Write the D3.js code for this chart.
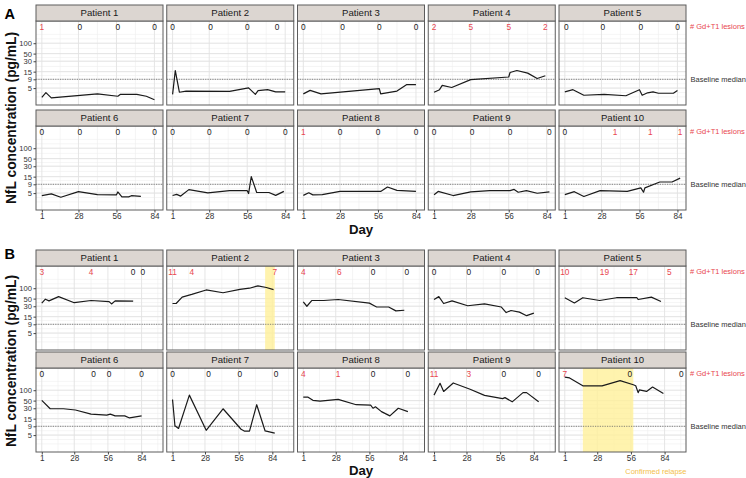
<!DOCTYPE html>
<html><head><meta charset="utf-8">
<script src="https://cdn.jsdelivr.net/npm/d3@7"></script>
<style>body{margin:0;background:#fff} text{font-family:"Liberation Sans",Arial,Helvetica,sans-serif}</style>
</head><body><svg id="c" width="746" height="478"></svg>
<script>
// ---------- data ----------
const patients = ["Patient 1","Patient 2","Patient 3","Patient 4","Patient 5","Patient 6","Patient 7","Patient 8","Patient 9","Patient 10"];
const yBreaks = [5, 9, 15, 30, 50, 100];
const xBreaks = [1, 28, 56, 84];
const baselineMedian = 9;
const lesionLabelLevel = 300;

// Panel A
const aDays = [
  [1,4,8,42,57,59,71,78,84],
  [1,3,6,11,43,57,62,64,71,77,84],
  [1,6,14,57,58,70,77,84],
  [1,5,7,14,28,56,57,62,70,77,83],
  [1,7,15,30,46,56,58,62,66,70,81,84],
  [1,8,15,28,42,56,57,60,65,67,74],
  [1,4,7,13,27,43,56,57,59,63,72,77,83],
  [1,5,8,15,28,58,63,70,84],
  [1,4,15,28,42,57,60,63,69,77,86],
  [1,8,15,27,47,57,59,60,71,80,86]
];
const aNfl = [
  [2.7,3.7,2.6,3.4,2.9,3.3,3.3,2.9,2.3],
  [3.3,16,3.8,4.1,4.0,5.1,3.3,4.2,4.5,3.9,3.9],
  [3.4,4.3,3.4,4.8,3.4,4.1,6.3,6.3],
  [3.8,4.5,6.0,5.2,8.8,10.5,14.2,16.2,13.6,9.5,11.4],
  [3.9,4.5,3.1,3.3,3.0,4.5,3.1,3.65,3.9,3.55,3.55,4.25],
  [4.25,4.75,3.8,5.5,4.5,4.45,5.4,3.9,3.9,4.2,4.0],
  [4.25,4.6,4.1,6.3,5.1,5.9,5.9,4.85,15,5.2,5.2,4.3,5.6],
  [4.3,5.1,4.45,4.5,5.6,5.6,7.5,6.0,5.6],
  [4.5,5.6,4.25,5.4,5.9,5.9,6.4,5.3,5.9,4.95,5.4],
  [4.5,5.5,4.0,5.9,5.6,7.1,5.3,7.1,10.5,10.5,13.6]
];
const aLesionDays = [
  [1,29,57,84],[1,29,56,78],[1,30,57,84],[1,28,56,83],[2,29,57,84],
  [1,29,57,84],[1,28,56,84],[1,28,56,84],[1,29,57,86],[1,38,64,86]
];
const aLesions = [
  [1,0,0,0],[0,0,0,0],[0,0,0,0],[2,5,5,2],[0,0,0,0],
  [0,0,0,0],[0,0,0,0],[1,0,0,0],[0,0,0,0],[0,1,1,1]
];
const aRelapse = [null,null,null,null,null,null,null,null,null,null];

// Panel B
const bDays = [
  [1,4,7,15,28,42,57,59,62,77],
  [1,4,9,17,29,43,57,65,72,79,85],
  [1,4,8,18,30,56,60,62,72,78,85],
  [1,5,9,16,29,43,57,61,65,72,78,84],
  [1,9,16,30,44,61,62,73,81],
  [1,8,19,29,42,55,58,62,70,74,84],
  [1,3,6,15,29,43,58,61,65,71,78,86],
  [1,5,9,15,30,45,57,59,61,66,73,80,88],
  [1,6,9,17,31,43,58,60,66,75,78,88],
  [1,5,16,32,47,58,60,62,63,69,74,83]
];
const bNfl = [
  [37,48,43,57,38,44,41,35,43,42],
  [36,36,55,66,89,74,93,100,117,105,91],
  [40,30,44,44,47,37,31,28.5,28.5,22,23],
  [47,57,36,43,31,35,28.5,19.7,22.6,20.3,16,18.9],
  [53,37.5,53,44,53,53,47,55,41],
  [51,29,29,26.7,20.3,18.9,20.3,18,18,15.7,18],
  [54,9.3,7.8,72,6.9,29,7.4,6.5,6.5,38,6.6,5.7],
  [63,63,51,48,54,38,37,30,33,24,18,30,24],
  [72,158,92,162,107,71,57,61,46,85,85,46],
  [239,227,134,134,189,144,134,85,102,92,123,80]
];
const bLesionDays = [
  [1,42,77,85],[1,17,86],[1,31,59,87],[1,30,59,87],[1,34,58,88],
  [1,44,57,84],[1,31,57,87],[1,30,59,88],[1,30,59,88],[1,55,98]
];
const bLesions = [
  [3,4,0,0],[11,4,7],[4,6,0,0],[0,0,0,0],[10,19,17,5],
  [0,0,0,0],[0,0,0,0],[4,1,0,0],[11,3,0,0],[7,0,0]
];
const bRelapse = [null,[78,86],null,null,null,null,null,null,null,[16,58]];

// ---------- layout ----------
const svg = d3.select("#c");
const RED = "#e8464f", GOLD = "#f3c04a";
const panelX0 = 36, panelStep = 130.75, panelW = 127, plotH = 84, stripH = 16;

const sections = [
  {letter:"A", letterY:18.5, tops:[21,126], xDomain:[-3.3,90.3], days:aDays, nfl:aNfl,
   lesDays:aLesionDays, les:aLesions, relapse:aRelapse, dayY:233.5, titleCY:118, relapseText:false},
  {letter:"B", letterY:259, tops:[266,368], xDomain:[-3.8,101.8], days:bDays, nfl:bNfl,
   lesDays:bLesionDays, les:bLesions, relapse:bRelapse, dayY:475.3, titleCY:361, relapseText:true}
];

// log-space minor breaks (ggplot style)
function minorBreaks(br, lo, hi) {
  const b = br.map(Math.log10);
  const bd = b[1]-b[0];
  const ext = [b[0]-bd, ...b, b[b.length-1]+bd];
  const out = [];
  for (let i=0;i<ext.length-1;i++){ out.push(ext[i], (ext[i]+ext[i+1])/2); }
  out.push(ext[ext.length-1]);
  return out.map(v=>Math.pow(10,v)).filter(v=>v>lo && v<hi);
}
function linMinor(br, lo, hi){
  const bd = br[1]-br[0];
  const ext=[br[0]-bd,...br,br[br.length-1]+bd];
  const out=[];
  for(let i=0;i<ext.length-1;i++) out.push((ext[i]+ext[i+1])/2);
  return out.filter(v=>v>lo&&v<hi);
}

const yDomain = [1.62, 440];

sections.forEach(sec => {
  svg.append("text").attr("x",4.5).attr("y",sec.letterY).text(sec.letter)
    .attr("font-size",14.5).attr("font-weight","bold").attr("fill","#000");

  patients.forEach((name, i) => {
    const col = i%5, row = Math.floor(i/5);
    const left = panelX0 + col*panelStep;
    const top = sec.tops[row];
    const x = d3.scaleLinear().domain(sec.xDomain).range([left, left+panelW]);
    const y = d3.scaleLog().domain(yDomain).range([top+plotH, top]);
    const g = svg.append("g");

    g.append("rect").attr("x",left).attr("y",top).attr("width",panelW).attr("height",plotH).attr("fill","#fff");
    // minor grid
    minorBreaks(yBreaks, yDomain[0], yDomain[1]).forEach(v=>{
      g.append("line").attr("x1",left).attr("x2",left+panelW).attr("y1",y(v)).attr("y2",y(v))
        .attr("stroke","#efefef").attr("stroke-width",0.6);
    });
    linMinor(xBreaks, sec.xDomain[0], sec.xDomain[1]).forEach(v=>{
      g.append("line").attr("y1",top).attr("y2",top+plotH).attr("x1",x(v)).attr("x2",x(v))
        .attr("stroke","#efefef").attr("stroke-width",0.6);
    });
    // major grid
    yBreaks.forEach(v=>{
      g.append("line").attr("x1",left).attr("x2",left+panelW).attr("y1",y(v)).attr("y2",y(v))
        .attr("stroke","#e2e2e2").attr("stroke-width",0.9);
    });
    xBreaks.forEach(v=>{
      g.append("line").attr("y1",top).attr("y2",top+plotH).attr("x1",x(v)).attr("x2",x(v))
        .attr("stroke","#e2e2e2").attr("stroke-width",0.9);
    });
    // relapse band
    const rel = sec.relapse[i];
    if (rel) {
      g.append("rect").attr("x",x(rel[0])).attr("width",x(rel[1])-x(rel[0]))
        .attr("y",top).attr("height",plotH).attr("fill","#fff09a").attr("opacity",0.8);
    }
    // baseline median
    g.append("line").attr("x1",left).attr("x2",left+panelW).attr("y1",y(baselineMedian)).attr("y2",y(baselineMedian))
      .attr("stroke","#6a6a6a").attr("stroke-width",0.8).attr("stroke-dasharray","1.2,1.2");
    // data line
    const pts = sec.days[i].map((d,k)=>[d, sec.nfl[i][k]]);
    g.append("path").datum(pts)
      .attr("d", d3.line().x(d=>x(d[0])).y(d=>y(d[1])))
      .attr("fill","none").attr("stroke","#1a1a1a").attr("stroke-width",1.2).attr("stroke-linejoin","round");
    // lesion labels
    sec.lesDays[i].forEach((d,k)=>{
      const n = sec.les[i][k];
      g.append("text").attr("x",x(d)).attr("y",y(lesionLabelLevel)+3)
        .attr("text-anchor","middle").attr("font-size",8.3)
        .attr("fill", n>0?RED:"#1a1a1a").text(n);
    });
    // border
    g.append("rect").attr("x",left).attr("y",top).attr("width",panelW).attr("height",plotH)
      .attr("fill","none").attr("stroke","#5c5c5c").attr("stroke-width",1);
    // strip
    g.append("rect").attr("x",left).attr("y",top-stripH).attr("width",panelW).attr("height",stripH)
      .attr("fill","#dcd6d1").attr("stroke","#5c5c5c").attr("stroke-width",1);
    g.append("text").attr("x",left+panelW/2).attr("y",top-stripH/2+3.4).attr("text-anchor","middle")
      .attr("font-size",9.6).attr("fill","#1a1a1a").text(name);

    // y axis
    if (col===0) {
      const ax = g.append("g").attr("transform",`translate(${left},0)`)
        .call(d3.axisLeft(y).tickValues(yBreaks).tickFormat(d3.format("d")).tickSize(2.5).tickPadding(1.5));
      ax.select(".domain").remove();
      ax.selectAll("line").attr("stroke","#444");
      ax.selectAll("text").attr("font-size",7.6).attr("fill","#333").attr("font-family",'"Liberation Sans",Arial,sans-serif');
    }
    // x axis
    if (row===1) {
      const ax = g.append("g").attr("transform",`translate(0,${top+plotH})`)
        .call(d3.axisBottom(x).tickValues(xBreaks).tickFormat(d3.format("d")).tickSize(2.5).tickPadding(1));
      ax.select(".domain").remove();
      ax.selectAll("line").attr("stroke","#444");
      ax.selectAll("text").attr("font-size",8.2).attr("fill","#333").attr("font-family",'"Liberation Sans",Arial,sans-serif');
    }
    // right side labels
    if (col===4) {
      g.append("text").attr("x",690).attr("y",y(lesionLabelLevel)+2.7).attr("font-size",7.5)
        .attr("fill",RED).text("# Gd+T1 lesions");
      g.append("text").attr("x",690.5).attr("y",y(baselineMedian)+2.7).attr("font-size",7.5)
        .attr("fill","#333").text("Baseline median");
    }
  });

  const plotMid = panelX0 + (4*panelStep + panelW)/2;
  svg.append("text").attr("x",plotMid).attr("y",sec.dayY).attr("text-anchor","middle")
    .attr("font-size",13.2).attr("font-weight","bold").attr("fill","#111").text("Day");
  svg.append("text").attr("transform",`translate(16,${sec.titleCY}) rotate(-90)`).attr("text-anchor","middle")
    .attr("font-size",13.8).attr("font-weight","bold").attr("fill","#111").text("NfL concentration (pg/mL)");
  if (sec.relapseText) {
    svg.append("text").attr("x",686.5).attr("y",473.5).attr("text-anchor","end").attr("font-size",7.5)
      .attr("fill",GOLD).text("Confirmed relapse");
  }
});
</script></body></html>
